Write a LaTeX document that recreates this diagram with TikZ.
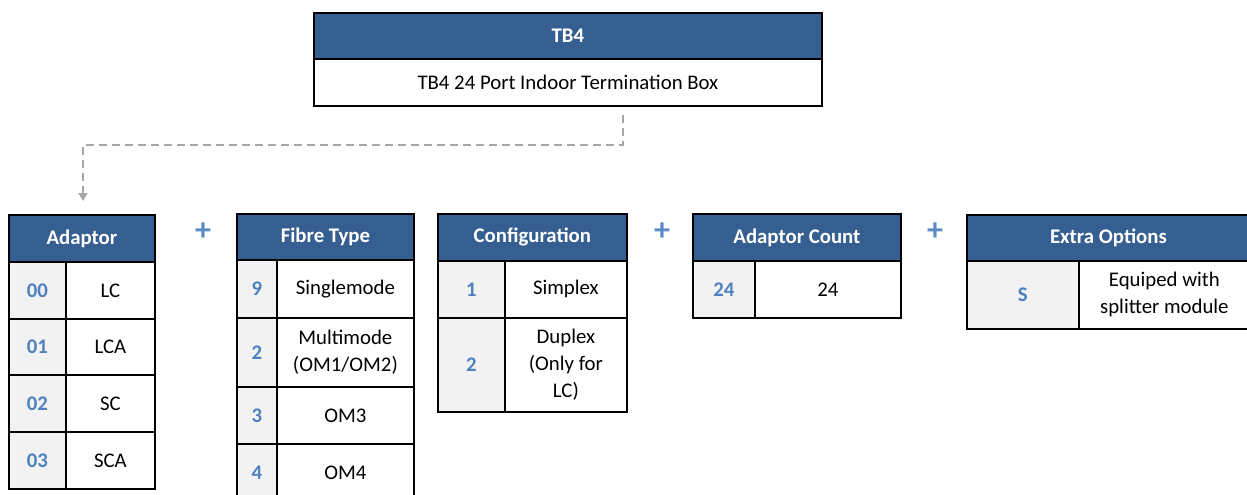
\documentclass[tikz,border=0pt]{standalone}
\usepackage{fontspec}
\setmainfont{Carlito}
\usetikzlibrary{arrows.meta}
\definecolor{hdrblue}{HTML}{365F91}
\definecolor{codeblue}{HTML}{4F81BD}
\definecolor{codefill}{HTML}{F2F2F2}
\definecolor{conngray}{HTML}{A6A6A6}
\definecolor{plusblue}{HTML}{5B8AC6}
\tikzset{
  cellbox/.style={draw=black, line width=1.8pt, anchor=north west, inner sep=0pt, align=center,
    font=\fontsize{20.8}{27}\selectfont},
  hdrcell/.style={cellbox, fill=hdrblue, text=white, font=\fontsize{20.8}{27}\selectfont\bfseries},
  codecell/.style={cellbox, fill=codefill, text=codeblue, font=\fontsize{20.8}{27}\selectfont\bfseries},
  desccell/.style={cellbox, fill=white, text=black},
  plussign/.style={text=plusblue, font=\fontsize{32}{32}\selectfont\bfseries, inner sep=0pt},
  conn/.style={draw=conngray, line width=2pt, dash pattern=on 8pt off 5pt,
    -{Triangle[width=9pt,length=8pt]}}
}
\newcommand{\mycell}[7]{\node[#6, minimum width=#4pt, minimum height=#5pt] (#1) at (#2,#3) {#7};}
\begin{document}
\begin{tikzpicture}[x=1pt,y=-1pt]
\useasboundingbox (0,0) rectangle (1247,495);
% top box
\mycell{tbh}{313}{12}{508}{46}{hdrcell}{TB4}
\mycell{tbb}{313}{58}{508}{47}{desccell}{TB4 24 Port Indoor Termination Box}
% Adaptor
\mycell{adh}{8}{214}{146}{47}{hdrcell}{Adaptor}
\mycell{adc1}{8}{261}{57}{57}{codecell}{00}
\mycell{add1}{65}{261}{89}{57}{desccell}{LC}
\mycell{adc2}{8}{318}{57}{56}{codecell}{01}
\mycell{add2}{65}{318}{89}{56}{desccell}{LCA}
\mycell{adc3}{8}{374}{57}{57}{codecell}{02}
\mycell{add3}{65}{374}{89}{57}{desccell}{SC}
\mycell{adc4}{8}{431}{57}{57}{codecell}{03}
\mycell{add4}{65}{431}{89}{57}{desccell}{SCA}
% Fibre Type
\mycell{fth}{236}{213}{177}{46}{hdrcell}{Fibre Type}
\mycell{ftc1}{236}{259}{40}{58}{codecell}{9}
\mycell{ftd1}{276}{259}{137}{58}{desccell}{Singlemode}
\mycell{ftc2}{236}{317}{40}{69}{codecell}{2}
\mycell{ftd2}{276}{317}{137}{69}{desccell}{Multimode\\(OM1/OM2)}
\mycell{ftc3}{236}{386}{40}{57}{codecell}{3}
\mycell{ftd3}{276}{386}{137}{57}{desccell}{OM3}
\mycell{ftc4}{236}{443}{40}{57}{codecell}{4}
\mycell{ftd4}{276}{443}{137}{57}{desccell}{OM4}
% Configuration
\mycell{cfh}{437}{213}{189}{47}{hdrcell}{Configuration}
\mycell{cfc1}{437}{260}{67}{57}{codecell}{1}
\mycell{cfd1}{504}{260}{122}{57}{desccell}{Simplex}
\mycell{cfc2}{437}{317}{67}{94}{codecell}{2}
\mycell{cfd2}{504}{317}{122}{94}{desccell}{Duplex\\(Only for\\LC)}
% Adaptor Count
\mycell{ach}{692}{213}{208}{47}{hdrcell}{Adaptor Count}
\mycell{acc1}{692}{260}{62}{57}{codecell}{24}
\mycell{acd1}{754}{260}{146}{57}{desccell}{24}
% Extra Options
\mycell{eoh}{966}{214}{283}{46}{hdrcell}{Extra Options}
\mycell{eoc1}{966}{260}{112}{68}{codecell}{S}
\mycell{eod1}{1078}{260}{171}{68}{desccell}{Equiped with\\splitter module}
% plus signs
\node[plussign] (p1) at (203,232) {+};
\node[plussign] (p2) at (662,232) {+};
\node[plussign] (p3) at (935,232) {+};
% connector
\coordinate (c0) at (623,115);
\coordinate (c1) at (83,145);
\draw[conn, shorten >=13pt] (c0) |- (c1) -- (c1 |- adh.north);
\end{tikzpicture}
\end{document}
